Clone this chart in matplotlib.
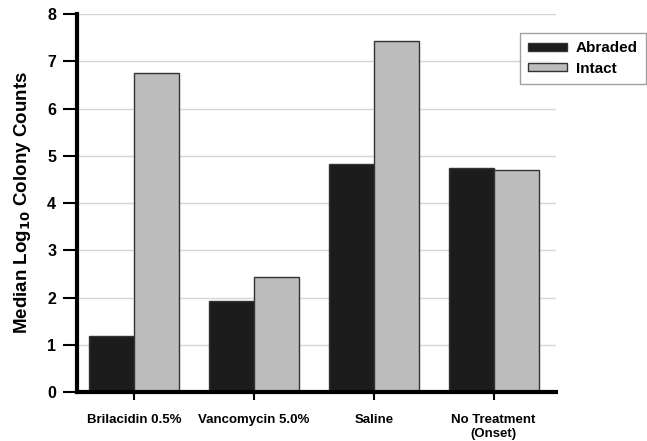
import matplotlib
matplotlib.use("Agg")
import matplotlib.pyplot as plt
import numpy as np

categories = ["Brilacidin 0.5%", "Vancomycin 5.0%", "Saline", "No Treatment\n(Onset)"]
abraded = [1.19, 1.93, 4.83, 4.74]
intact = [6.75, 2.43, 7.43, 4.70]
series_names = ["Abraded", "Intact"]

plt.rcParams['font.family'] = ['Liberation Sans', 'DejaVu Sans']
plt.rcParams['font.weight'] = 'bold'

fig = plt.figure(figsize=(6.47, 4.41), dpi=100)
ax = fig.add_axes([77/647, 49/441, (556-77)/647, (392-14)/441])

x = np.arange(len(categories))
w = 0.375
ax.bar(x - w/2, abraded, w, color="#1c1c1c", edgecolor="#333333", linewidth=1, label=series_names[0], zorder=3)
ax.bar(x + w/2, intact, w, color="#bcbcbc", edgecolor="#333333", linewidth=1, label=series_names[1], zorder=3)

ax.set_xlim(-0.475, 3.52)
ax.set_ylim(0, 8)
ax.set_yticks(range(0, 9))
ax.set_xticks(x)
ax.set_xticklabels(categories, fontsize=9.5, fontweight='bold')
ax.tick_params(axis='y', labelsize=11.5, width=1.5, length=10, direction='out', pad=5)
ax.tick_params(axis='x', width=1.5, length=6, direction='out', pad=10)
for lab in ax.get_yticklabels():
    lab.set_fontweight('bold')

ax.grid(axis='y', color="#d5d5d5", linewidth=1, zorder=0)
ax.set_axisbelow(True)
for s in ['top', 'right']:
    ax.spines[s].set_visible(False)
for s in ['left', 'bottom']:
    ax.spines[s].set_linewidth(3)
    ax.spines[s].set_zorder(4)

ax.set_ylabel("Median Log$_{\\mathbf{10}}$ Colony Counts", fontsize=13.5, fontweight='bold', labelpad=10)

leg = ax.legend(loc='upper left', bbox_to_anchor=(520/647, 1 - 33/441), bbox_transform=fig.transFigure,
                frameon=True, fancybox=False, fontsize=11, handlelength=2.5, handleheight=0.45,
                borderpad=0.55, labelspacing=0.4, handletextpad=0.6, borderaxespad=0)
leg.get_frame().set_edgecolor("#888888")
leg.get_frame().set_linewidth(1)
for t in leg.get_texts():
    t.set_fontweight('bold')

fig.savefig("out.png", dpi=100)
